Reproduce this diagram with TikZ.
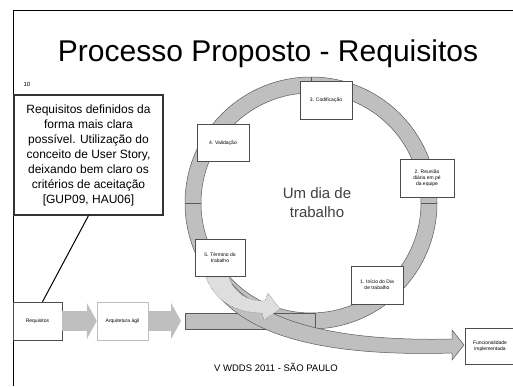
\documentclass[tikz,border=0pt]{standalone}
\usepackage{fontspec}
\setmainfont{Liberation Sans}
\usetikzlibrary{positioning,arrows.meta}
\definecolor{ringgray}{HTML}{BFBFBF}
\definecolor{dotgray}{HTML}{DEDEDE}

\begin{document}
\begin{tikzpicture}[x=1pt, y=-1pt,
    stepbox/.style={draw=black!70, fill=white, line width=0.5pt, minimum width=52pt, minimum height=38pt, inner sep=1pt, align=center, font=\fontsize{5}{6}\selectfont},
    ringstyle/.style={draw=black!65, line width=0.5pt, fill=ringgray},
    blockarrow/.style={line width=20pt, ringgray, -{Triangle[length=10pt,width=36pt]}}]
    \useasboundingbox (0,0) rectangle (513,386);
    % slide frame
    \draw[line width=1pt] (13,386) -- (13,10) -- (513,10);
    \node[anchor=base, font=\fontsize{30}{36}\selectfont] (title) at (268,61) {Processo Proposto - Requisitos};
    \node[font=\fontsize{6}{7}\selectfont] (num) at (27,84) {10};

    % cycle of the working day
    \coordinate (ring) at (311,203);
    \filldraw[ringstyle, even odd rule] (ring) circle[radius=126pt] (ring) circle[radius=110pt];
    \foreach \a in {0,90,180}
        \draw[black!65, line width=0.5pt] ([shift={(\a:110pt)}]ring) -- ([shift={(\a:126pt)}]ring);
    \filldraw[ringstyle] (185,313) rectangle (315,329);
    \filldraw[ringstyle] (202,266) .. controls (225,335) and (320,357) .. (452,353) -- (452,360) -- (464,345) -- (452,330) -- (452,339) .. controls (325,342) and (240,318) .. (216,258) -- cycle;
    \filldraw[densely dotted, draw=black!70, fill=dotgray] (206,277) .. controls (214,300) and (235,313) .. (262,313) -- (264,320) -- (280,309) -- (268,293) -- (265,301) .. controls (246,301) and (234,293) .. (229,277) -- cycle;
    \node[font=\fontsize{15}{19}\selectfont, align=center, text=black!75] (dia) at (317,203) {Um dia de\\trabalho};

    \node[stepbox] (s1) at (377,285) {1. Início do Dia\\de trabalho};
    \node[stepbox, minimum width=54pt] (s2) at (427,178) {2. Reunião\\diária em pé\\da equipe};
    \node[stepbox] (s3) at (326,100) {3. Codificação};
    \node[stepbox, minimum height=37pt] (s4) at (223,143) {4. Validação};
    \node[stepbox, minimum width=50pt, minimum height=37pt] (s5) at (220,258) {5. Término do\\trabalho};

    % flow at the bottom
    \node[stepbox, minimum width=49pt] (req) at (37.5,321) {Requisitos};
    \node[stepbox, draw=black!25, minimum width=51pt] (arq) at (122.5,321) {Arquitetura ágil};
    \coordinate (barin) at (181,321);
    \draw[blockarrow] (req.east) -- (arq.west);
    \draw[blockarrow] (arq.east) -- (barin);
    \node[stepbox, minimum width=50pt, minimum height=36pt] (final) at (490,346) {Funcionalidade\\implementada};

    % note
    \node[draw=black!80, line width=1.2pt, minimum width=149pt, minimum height=120pt, align=center, font=\fontsize{12}{15}\selectfont] (note) at (88.5,155) {Requisitos definidos da\\forma mais clara\\possível. Utilização do\\conceito de User Story,\\deixando bem claro os\\critérios de aceitação\\{[}GUP09, HAU06{]}};
    \draw[line width=1pt] (note.south) -- ([xshift=5pt]req.north);

    \node[font=\fontsize{9.5}{11}\selectfont] (foot) at (276,367) {V WDDS 2011 - SÃO PAULO};
\end{tikzpicture}
\end{document}
